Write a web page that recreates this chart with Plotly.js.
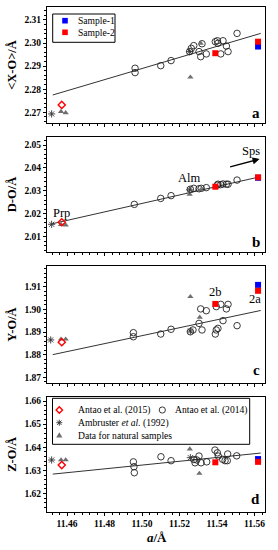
<!DOCTYPE html>
<html><head><meta charset="utf-8">
<script src="https://cdn.plot.ly/plotly-3.0.1.min.js"></script>
<style>html,body{margin:0;padding:0;background:#fff}#chart{width:278px;height:550px}</style>
</head><body><div id="chart"></div>
<script>
// ---------- data (a = cell parameter, Å) ----------
const fitX = [11.4524, 11.5633];
const diamondX = [11.4572];
const sample1X = [11.5619];
const sample2X = [11.5391, 11.5619];

// panel a : <X-O>
const circA_x = [11.4963, 11.4963, 11.5100, 11.5155, 11.5254, 11.5263, 11.5276, 11.5304, 11.5313, 11.5320, 11.5343, 11.5391, 11.5402, 11.5405, 11.5420, 11.5432, 11.5450, 11.5459, 11.5507];
const circA_y = [2.2891, 2.2872, 2.2902, 2.2924, 2.2963, 2.2977, 2.2989, 2.2963, 2.2941, 2.2997, 2.2953, 2.3006, 2.3010, 2.2999, 2.2953, 2.3010, 2.2987, 2.2963, 2.3042];
const triA_x = [11.4568, 11.4593, 11.5258, 11.5313];
const triA_y = [2.2703, 2.2698, 2.2852, 2.2999];
const astA_x = [11.4518, 11.5254];
const astA_y = [2.2693, 2.2963];
const diaA_y = [2.2732];
const s1A_y = [2.2985];
const s2A_y = [2.2956, 2.3006];
const fitA_y = [2.2775, 2.3042];

// panel b : D-O
const circB_x = [11.4959, 11.5100, 11.5155, 11.5258, 11.5276, 11.5304, 11.5316, 11.5343, 11.5402, 11.5405, 11.5420, 11.5432, 11.5450, 11.5459, 11.5507];
const circB_y = [2.0241, 2.0267, 2.0279, 2.0307, 2.0311, 2.0309, 2.0311, 2.0314, 2.0325, 2.0329, 2.0327, 2.0330, 2.0329, 2.0329, 2.0347];
const triB_x = [11.4568, 11.4593, 11.5254, 11.5313];
const triB_y = [2.0153, 2.0151, 2.0285, 2.0304];
const astB_x = [11.4518, 11.5254];
const astB_y = [2.0154, 2.0304];
const diaB_y = [2.0163];
const s1B_y = [2.0357];
const s2B_y = [2.0318, 2.0359];
const fitB_y = [2.0157, 2.0362];

// panel c : Y-O
const circC_x = [11.4954, 11.4954, 11.5100, 11.5155, 11.5258, 11.5272, 11.5304, 11.5313, 11.5343, 11.5320, 11.5396, 11.5391, 11.5405, 11.5396, 11.5420, 11.5459, 11.5450, 11.5432, 11.5507];
const circC_y = [1.8897, 1.8879, 1.8891, 1.8912, 1.8901, 1.8909, 1.8938, 1.9002, 1.8994, 1.8909, 1.8909, 1.8891, 1.8916, 1.9012, 1.9022, 1.9022, 1.9002, 1.8950, 1.8928];
const triC_x = [11.4568, 11.4593, 11.5258, 11.5308];
const triC_y = [1.8868, 1.8868, 1.9056, 1.8965];
const astC_x = [11.4513, 11.5258];
const astC_y = [1.8865, 1.8904];
const diaC_y = [1.8855];
const s1C_y = [1.9108];
const s2C_y = [1.9024, 1.9082];
const fitC_y = [1.8800, 1.8995];

// panel d : Z-O
const circD_x = [11.4954, 11.4957, 11.4959, 11.5101, 11.5155, 11.5277, 11.5283, 11.5292, 11.5304, 11.5315, 11.5345, 11.5389, 11.5402, 11.5407, 11.5430, 11.5443, 11.5457, 11.5455, 11.5505];
const circD_y = [1.6337, 1.6316, 1.6290, 1.6359, 1.6342, 1.6347, 1.6333, 1.6345, 1.6362, 1.6333, 1.6337, 1.6388, 1.6376, 1.6362, 1.6348, 1.6342, 1.6371, 1.6342, 1.6363];
const triD_x = [11.4568, 11.4593, 11.5255, 11.5306];
const triD_y = [1.6345, 1.6345, 1.6392, 1.6287];
const astD_x = [11.4518, 11.5258];
const astD_y = [1.6345, 1.6355];
const diaD_y = [1.6323];
const s1D_y = [1.6349];
const s2D_y = [1.6335, 1.6337];
const fitD_y = [1.6284, 1.6375];

const xTickVals = [11.46, 11.48, 11.50, 11.52, 11.54, 11.56];

// ---------- layout helpers ----------
const W = 278, H = 550, ML = 47, MR = 13, MT = 7, MB = 38;
const PW = W - ML - MR, PH = H - MT - MB;
const px = x => (x - ML) / PW;
const py = y => (H - MB - y) / PH;
const SERIF = '"Liberation Serif", "Times New Roman", serif';
const xRange = [11.44933, 11.5656];

const panels = [
  {letter: 'a', title: '&lt;X-O&gt;/Å', range: [2.26536, 2.31563], dom: [py(123), py(7)], ly: 0.09,
   cx: circA_x, cy: circA_y, tx: triA_x, ty: triA_y, ax: astA_x, ay: astA_y, dy: diaA_y, s1: s1A_y, s2: s2A_y, fy: fitA_y},
  {letter: 'b', title: 'D-O/Å', range: [2.00332, 2.05349], dom: [py(252), py(137)], ly: 0.09,
   cx: circB_x, cy: circB_y, tx: triB_x, ty: triB_y, ax: astB_x, ay: astB_y, dy: diaB_y, s1: s1B_y, s2: s2B_y, fy: fitB_y},
  {letter: 'c', title: 'Y-O/Å', range: [1.86748, 1.91914], dom: [py(383), py(266)], ly: 0.11,
   cx: circC_x, cy: circC_y, tx: triC_x, ty: triC_y, ax: astC_x, ay: astC_y, dy: diaC_y, s1: s1C_y, s2: s2C_y, fy: fitC_y},
  {letter: 'd', title: 'Z-O/Å', range: [1.61202, 1.66186], dom: [0, py(396.7)], ly: 0.11,
   cx: circD_x, cy: circD_y, tx: triD_x, ty: triD_y, ax: astD_x, ay: astD_y, dy: diaD_y, s1: s1D_y, s2: s2D_y, fy: fitD_y}
];

const traces = [];
const layout = {
  width: W, height: H, margin: {l: ML, r: MR, t: MT, b: MB},
  paper_bgcolor: '#fff', plot_bgcolor: '#fff', showlegend: false,
  font: {family: SERIF, color: '#000'},
  shapes: [], annotations: []
};
const tickFont = {family: SERIF, size: 9.5, weight: 'bold', color: '#000'};

panels.forEach((p, i) => {
  const n = i + 1, k = i + 5;
  const xa = n === 1 ? 'x' : 'x' + n, ya = n === 1 ? 'y' : 'y' + n;
  const last = n === 4;
  layout['xaxis' + n] = {
    domain: [0, 1], anchor: ya, range: xRange, tickvals: xTickVals, tickformat: '.2f',
    ticks: 'outside', ticklen: 3, tickwidth: 1, tickcolor: '#000',
    minor: {dtick: 0.004, tick0: 11.46, ticks: 'outside', ticklen: 2, tickwidth: 1, tickcolor: '#000'},
    showline: true, linecolor: '#000', linewidth: 1, mirror: true,
    showgrid: false, zeroline: false, showticklabels: last, tickfont: tickFont
  };
  layout['xaxis' + k] = {
    overlaying: xa, anchor: ya, range: xRange, tickvals: xTickVals,
    ticks: 'inside', ticklen: 3, tickwidth: 1, tickcolor: '#000',
    minor: {dtick: 0.004, tick0: 11.46, ticks: 'inside', ticklen: 2, tickwidth: 1, tickcolor: '#000'},
    showline: false, showgrid: false, zeroline: false, showticklabels: false
  };
  layout['yaxis' + n] = {
    domain: p.dom, anchor: xa, range: p.range, dtick: 0.01, tick0: 0, tickformat: '.2f',
    ticks: 'outside', ticklen: 3, tickwidth: 1, tickcolor: '#000',
    minor: {dtick: 0.002, tick0: 0, ticks: 'outside', ticklen: 2, tickwidth: 1, tickcolor: '#000'},
    showline: true, linecolor: '#000', linewidth: 1, mirror: true,
    showgrid: false, zeroline: false, tickfont: tickFont,
    title: {text: p.title, font: {family: SERIF, size: 12.5, weight: 'bold'}, standoff: 5}
  };
  layout['yaxis' + k] = {
    overlaying: ya, anchor: xa, range: p.range, dtick: 0.01, tick0: 0,
    ticks: 'inside', ticklen: 3, tickwidth: 1, tickcolor: '#000',
    minor: {dtick: 0.002, tick0: 0, ticks: 'inside', ticklen: 2, tickwidth: 1, tickcolor: '#000'},
    showline: false, showgrid: false, zeroline: false, showticklabels: false
  };

  const base = {xaxis: xa, yaxis: ya, type: 'scatter', hoverinfo: 'skip', cliponaxis: false};
  traces.push(Object.assign({}, base, {x: fitX, y: p.fy, mode: 'lines', line: {color: '#333', width: 1}}));
  traces.push(Object.assign({}, base, {x: p.cx, y: p.cy, mode: 'markers', name: 'Antao et al. (2014)',
    marker: {symbol: 'circle-open', size: 6.5, color: '#222', line: {width: 0.9, color: '#222'}}}));
  traces.push(Object.assign({}, base, {x: p.tx, y: p.ty, mode: 'markers', name: 'Data for natural samples',
    marker: {symbol: 'triangle-up', size: 5.5, color: '#6f6f6f'}}));
  traces.push(Object.assign({}, base, {x: p.ax, y: p.ay, mode: 'markers', name: 'Ambruster et al. (1992)',
    marker: {symbol: 'asterisk-open', size: 6, color: '#333', line: {width: 0.9, color: '#333'}}}));
  traces.push(Object.assign({}, base, {x: diamondX, y: p.dy, mode: 'markers', name: 'Antao et al. (2015)',
    marker: {symbol: 'diamond-open', size: 5.5, color: '#ff0000', line: {width: 1.4, color: '#ff0000'}}}));
  traces.push(Object.assign({}, base, {x: sample1X, y: p.s1, mode: 'markers', name: 'Sample-1',
    marker: {symbol: 'square', size: 6, color: '#0000ff'}}));
  traces.push(Object.assign({}, base, {x: sample2X, y: p.s2, mode: 'markers', name: 'Sample-2',
    marker: {symbol: 'square', size: 6, color: '#ff0000'}}));

  layout.annotations.push({xref: xa + ' domain', yref: ya + ' domain', x: 0.985, y: p.ly,
    xanchor: 'right', yanchor: 'middle', text: '<b>' + p.letter + '</b>', showarrow: false,
    font: {family: SERIF, size: 15, color: '#000'}});
});

// x-axis title
layout.annotations.push({xref: 'paper', yref: 'paper', x: px(156.5), y: py(537.5), xanchor: 'center', yanchor: 'middle',
  text: '<b><i>a</i>/Å</b>', showarrow: false, font: {family: SERIF, size: 13, color: '#000'}});

// text labels
const lab = (xa, ya, x, y, t) => ({xref: xa, yref: ya, x: x, y: y, text: t, showarrow: false,
  font: {family: SERIF, size: 12.5, color: '#000'}, xanchor: 'center', yanchor: 'middle'});
layout.annotations.push(lab('x2', 'y2', 11.4573, 2.0205, 'Prp'));
layout.annotations.push(lab('x2', 'y2', 11.5254, 2.0355, 'Alm'));
layout.annotations.push(lab('x2', 'y2', 11.5583, 2.0474, 'Sps'));
layout.annotations.push(lab('x3', 'y3', 11.5393, 1.9078, '2b'));
layout.annotations.push(lab('x3', 'y3', 11.5604, 1.9047, '2a'));
layout.annotations.push({xref: 'x2', yref: 'y2', axref: 'x2', ayref: 'y2',
  x: 11.5627, y: 2.0439, ax: 11.5462, ay: 2.0403, text: '', showarrow: true,
  arrowhead: 2, arrowsize: 1, arrowwidth: 1.4, arrowcolor: '#000', standoff: 0, startstandoff: 0});

// ---------- legends (drawn as boxes, keys and text) ----------
const box = (x0, y0, x1, y1) => ({type: 'rect', xref: 'paper', yref: 'paper',
  x0: px(x0), x1: px(x1), y0: py(y1), y1: py(y0), line: {color: '#000', width: 1}, fillcolor: '#fff', layer: 'above'});
const sq = (cx, cy, c) => ({type: 'rect', xref: 'paper', yref: 'paper',
  x0: px(cx - 2.8), x1: px(cx + 2.8), y0: py(cy + 2.8), y1: py(cy - 2.8), line: {width: 0}, fillcolor: c, layer: 'above'});
const pathOf = pts => pts.map((q, j) => (j ? 'L' : 'M') + px(q[0]).toFixed(5) + ',' + py(q[1]).toFixed(5)).join(' ');
const LEGK = [];
LEGK.push(box(52.7, 14, 115, 42.3));
LEGK.push(sq(65, 20.7, '#0000ff'));
LEGK.push(sq(65, 32.3, '#ff0000'));
LEGK.push(box(52.5, 398.3, 249.7, 444.3));
LEGK.push({type: 'path', xref: 'paper', yref: 'paper', layer: 'above',
  path: pathOf([[59.3, 406.8], [62.5, 410], [59.3, 413.2], [56.1, 410]]) + ' Z', line: {color: '#ff0000', width: 1.4}});
LEGK.push({type: 'circle', xref: 'paper', yref: 'paper', layer: 'above',
  x0: px(159.2), x1: px(165.4), y0: py(413.1), y1: py(406.9), line: {color: '#222', width: 0.9}});
const ac = [59.3, 422.7], r = 3, rd = 2.2;
LEGK.push({type: 'path', xref: 'paper', yref: 'paper', layer: 'above',
  path: pathOf([[ac[0] - r, ac[1]], [ac[0] + r, ac[1]]]) + ' ' + pathOf([[ac[0], ac[1] - r], [ac[0], ac[1] + r]]) + ' ' +
        pathOf([[ac[0] - rd, ac[1] - rd], [ac[0] + rd, ac[1] + rd]]) + ' ' + pathOf([[ac[0] - rd, ac[1] + rd], [ac[0] + rd, ac[1] - rd]]),
  line: {color: '#333', width: 0.9}});
LEGK.push({type: 'path', xref: 'paper', yref: 'paper', layer: 'above',
  path: pathOf([[56.2, 437.5], [62.4, 437.5], [59.3, 432.2]]) + ' Z', line: {width: 0}, fillcolor: '#6f6f6f'});
layout.shapes = layout.shapes.concat(LEGK);

const legTxt = (x, y, t) => ({xref: 'paper', yref: 'paper', x: px(x), y: py(y), text: t, showarrow: false,
  xanchor: 'left', yanchor: 'middle', font: {family: SERIF, size: 9.6, color: '#000'}});
layout.annotations.push(legTxt(76, 20.7, 'Sample-1'));
layout.annotations.push(legTxt(76, 32.3, 'Sample-2'));
layout.annotations.push(legTxt(76, 410, 'Antao et al. (2015)'));
layout.annotations.push(legTxt(172.5, 410, 'Antao et al. (2014)'));
layout.annotations.push(legTxt(76, 422.7, 'Ambruster <i>et al.</i> (1992)'));
layout.annotations.push(legTxt(76, 435, 'Data for natural samples'));

Plotly.newPlot('chart', traces, layout, {staticPlot: true, displayModeBar: false});
</script></body></html>
